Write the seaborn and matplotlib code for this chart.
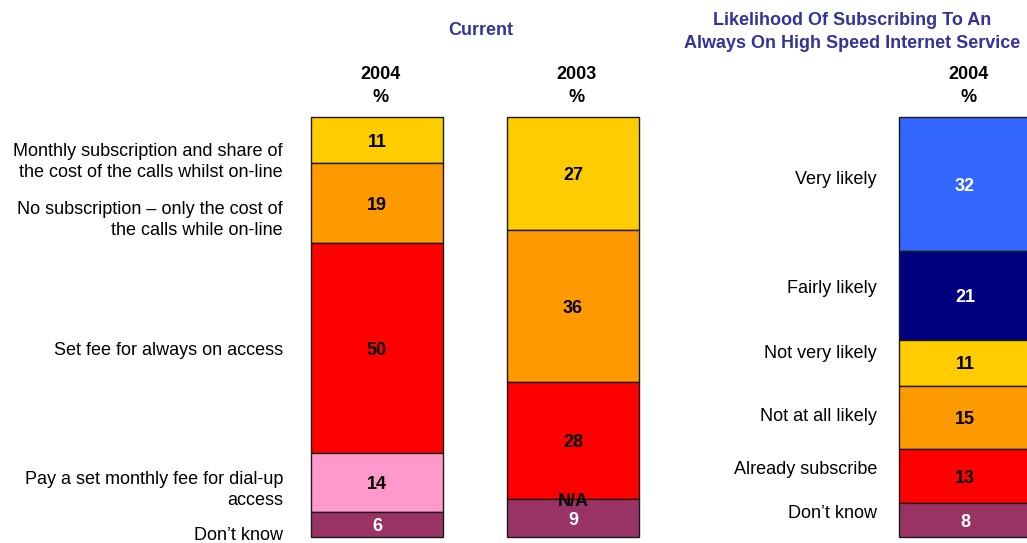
import numpy as np
import matplotlib
matplotlib.use("Agg")
import matplotlib.pyplot as plt
import seaborn as sns

# Column slots across the figure (the third slot is left empty as a spacer)
columns = ["Current 2004", "Current 2003", "spacer", "Likelihood 2004"]

current_labels = [
    "Monthly subscription and share of\nthe cost of the calls whilst on-line",
    "No subscription \u2013 only the cost of\nthe calls while on-line",
    "Set fee for always on access",
    "Pay a set monthly fee for dial-up\naccess",
    "Don\u2019t know",
]
current_2004 = [11, 19, 50, 14, 6]
current_2003 = [27, 36, 28, np.nan, 9]   # dial-up option not asked in 2003 (N/A)
current_colors = ["#FFCC00", "#FF9900", "#FF0000", "#FF99CC", "#993366"]

likelihood_labels = [
    "Very likely",
    "Fairly likely",
    "Not very likely",
    "Not at all likely",
    "Already subscribe",
    "Don\u2019t know",
]
likelihood_2004 = [32, 21, 11, 15, 13, 8]
likelihood_colors = ["#3366FF", "#000080", "#FFCC00", "#FF9900", "#FF0000", "#993366"]

# Vertical placement (in % units) of the row captions beside each stack
current_label_y = [89.3, 75.5, 44.5, 11.2, 0.4]
likelihood_label_y = [85.0, 59.1, 43.6, 28.6, 16.0, 5.5]

DARK_TEXT = {"#3366FF", "#000080", "#993366"}
EDGE = "#1a1a1a"
TITLE_COLOR = "#333399"
BAR_WIDTH = 0.673
FS = 13
VALUE_NUDGE = -0.5   # baseline correction for the in-bar figures

sns.set_theme(style="white")
plt.rcParams["font.family"] = ["Liberation Sans", "DejaVu Sans"]
plt.rcParams["text.color"] = "black"

fig = plt.figure(figsize=(10.27, 5.43), dpi=100)
ax = fig.add_axes([0, 0, 1, 1])


def draw_stack(col, values, colors):
    pos = columns.index(col)
    top = 100.0
    for v, c in zip(values, colors):
        if np.isnan(v):
            ax.text(pos, top + VALUE_NUDGE, "N/A", ha="center", va="center",
                    fontsize=FS, fontweight="bold", color="black", zorder=5)
            continue
        bottom = top - v
        sns.barplot(x=[col], y=[v], bottom=bottom, order=columns, color=c,
                    saturation=1, width=BAR_WIDTH, edgecolor=EDGE,
                    linewidth=1.0, ax=ax, zorder=2)
        ax.text(pos, bottom + v / 2 + VALUE_NUDGE, f"{v:g}", ha="center",
                va="center", fontsize=FS, fontweight="bold",
                color="white" if c in DARK_TEXT else "black", zorder=5)
        top = bottom


draw_stack("Current 2004", current_2004, current_colors)
draw_stack("Current 2003", current_2003, current_colors)
draw_stack("Likelihood 2004", likelihood_2004, likelihood_colors)

# Row captions
for lab, y in zip(current_labels, current_label_y):
    ax.text(-0.48, y, lab, ha="right", va="center", fontsize=FS,
            color="black", linespacing=1.36)
rpos = columns.index("Likelihood 2004")
for lab, y in zip(likelihood_labels, likelihood_label_y):
    ax.text(rpos - 0.449, y, lab, ha="right", va="center", fontsize=FS,
            color="black", linespacing=1.36)

# Column headers
for col, head in [("Current 2004", "2004\n%"), ("Current 2003", "2003\n%"),
                  ("Likelihood 2004", "2004\n%")]:
    ax.text(columns.index(col) + 0.02, 107.4, head, ha="center", va="center",
            fontsize=FS, fontweight="bold", color="black", linespacing=1.42)

# Section titles
ax.text(0.53, 120.5, "Current", ha="center", va="center", fontsize=FS,
        fontweight="bold", color=TITLE_COLOR)
ax.text(2.423, 120.2,
        "Likelihood Of Subscribing To An\nAlways On High Speed Internet Service",
        ha="center", va="center", fontsize=FS, fontweight="bold",
        color=TITLE_COLOR, linespacing=1.42)

ax.set_xlim(-377 / 196, (1027 - 377) / 196)
ax.set_ylim(-6 / 4.2, 537 / 4.2)
ax.axis("off")

fig.savefig("out.png", dpi=100)
